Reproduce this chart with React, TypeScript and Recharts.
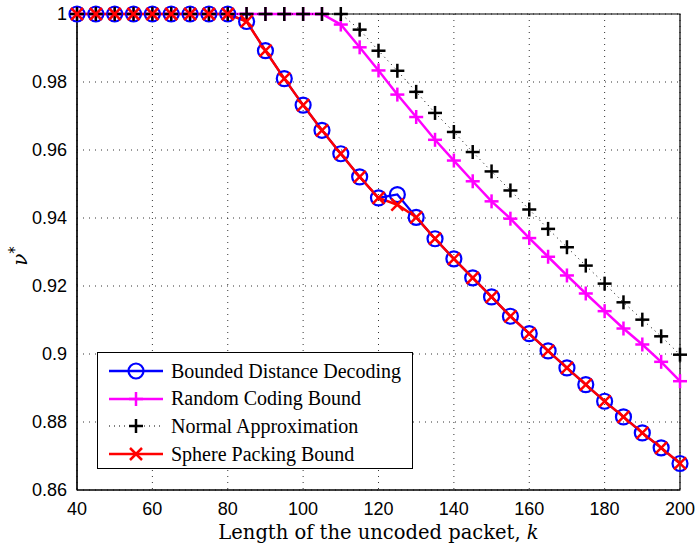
import React from "react";
import {
  LineChart,
  Line,
  XAxis,
  YAxis,
  CartesianGrid,
  ReferenceArea,
} from "recharts";

const kValues = [
  40, 45, 50, 55, 60, 65, 70, 75, 80, 85, 90, 95, 100, 105, 110, 115, 120,
  125, 130, 135, 140, 145, 150, 155, 160, 165, 170, 175, 180, 185, 190, 195, 200,
];

const boundedDistance = [
  1, 1, 1, 1, 1, 1, 1, 1, 1, 0.9978, 0.9892, 0.981, 0.9732, 0.9658, 0.9589,
  0.9521, 0.9459, 0.9469, 0.9402, 0.9339, 0.928, 0.9224, 0.9168, 0.9111, 0.906,
  0.9009, 0.8959, 0.891, 0.8861, 0.8815, 0.8768, 0.8724, 0.8678,
];

const randomCoding = [
  1, 1, 1, 1, 1, 1, 1, 1, 1, 1, 1, 1, 1, 1, 0.9969, 0.9902, 0.9834, 0.9763,
  0.9697, 0.963, 0.9569, 0.9508, 0.9449, 0.9398, 0.9341, 0.9286, 0.9231,
  0.9178, 0.9126, 0.9075, 0.9028, 0.8977, 0.892,
];

const normalApprox = [
  1, 1, 1, 1, 1, 1, 1, 1, 1, 1, 1, 1, 1, 1, 1, 0.9954, 0.9892, 0.9833, 0.9771,
  0.9709, 0.9653, 0.9594, 0.9537, 0.9481, 0.9425, 0.9368, 0.9314, 0.926,
  0.9207, 0.9152, 0.9101, 0.9052, 0.8998,
];

const spherePacking = [
  1, 1, 1, 1, 1, 1, 1, 1, 1, 0.9978, 0.9892, 0.981, 0.9732, 0.9658, 0.9589,
  0.9521, 0.9459, 0.9439, 0.9402, 0.9339, 0.928, 0.9224, 0.9168, 0.9111, 0.906,
  0.9009, 0.8959, 0.891, 0.8861, 0.8815, 0.8768, 0.8724, 0.8678,
];

const xTicks = [40, 60, 80, 100, 120, 140, 160, 180, 200];
const yTicks = [0.86, 0.88, 0.9, 0.92, 0.94, 0.96, 0.98, 1];

const legendNames = [
  "Bounded Distance Decoding",
  "Random Coding Bound",
  "Normal Approximation",
  "Sphere Packing Bound",
];

const data = kValues.map((k, i) => ({
  k,
  bdd: boundedDistance[i],
  rcb: randomCoding[i],
  na: normalApprox[i],
  spb: spherePacking[i],
}));

const BLUE = "#0000ff";
const MAGENTA = "#ff00ff";
const RED = "#ff0000";
const SERIF = "'DejaVu Serif', serif";

const circleDot = (p: any) => (
  <circle key={`c-${p.index}`} cx={p.cx} cy={p.cy} r={7.5} fill="none" stroke={BLUE} strokeWidth={2.2} />
);

const plusDot = (color: string, s: number, w: number) => (p: any) => (
  <g key={`p-${color}-${p.index}`} stroke={color} strokeWidth={w}>
    <line x1={p.cx - s} y1={p.cy} x2={p.cx + s} y2={p.cy} />
    <line x1={p.cx} y1={p.cy - s} x2={p.cx} y2={p.cy + s} />
  </g>
);

const crossDot = (p: any) => (
  <g key={`x-${p.index}`} stroke={RED} strokeWidth={2.5}>
    <line x1={p.cx - 6} y1={p.cy - 6} x2={p.cx + 6} y2={p.cy + 6} />
    <line x1={p.cx - 6} y1={p.cy + 6} x2={p.cx + 6} y2={p.cy - 6} />
  </g>
);

const XLabel = (props: any) => {
  const vb = props.viewBox || { x: 77, width: 603 };
  return (
    <text x={vb.x + vb.width / 2} y={539} textAnchor="middle" fontFamily={SERIF} fontSize={19.5} fill="#000">
      Length of the uncoded packet, <tspan fontStyle="italic">k</tspan>
    </text>
  );
};

const YLabel = () => (
  <text x={27} y={256} transform="rotate(-90, 27, 256)" textAnchor="middle" fontFamily={SERIF} fontSize={20} fill="#000">
    <tspan fontStyle="italic">ν</tspan>
    <tspan dy={-7} fontSize={15} fontFamily="'DejaVu Sans', sans-serif">*</tspan>
  </text>
);

const LegendBox = () => {
  const rows = [
    { color: BLUE, dash: undefined, width: 2.5, marker: "o" },
    { color: MAGENTA, dash: undefined, width: 2.5, marker: "+" },
    { color: "#000", dash: "1 4", width: 1, marker: "k+" },
    { color: RED, dash: undefined, width: 2.5, marker: "x" },
  ];
  return (
    <div
      style={{
        position: "absolute",
        left: 97,
        top: 352,
        width: 314,
        height: 115,
        border: "1px solid #000",
        background: "#fff",
        fontFamily: "'Liberation Serif', serif",
        fontSize: 20,
      }}
    >
      {rows.map((r, i) => (
        <div
          key={i}
          style={{ position: "absolute", left: 0, top: 4 + i * 27.7, height: 28, display: "flex", alignItems: "center" }}
        >
          <svg width={70} height={28}>
            <line x1={11} y1={14} x2={65} y2={14} stroke={r.color} strokeWidth={r.width} strokeDasharray={r.dash} />
            {r.marker === "o" && <circle cx={38} cy={14} r={7.5} fill="none" stroke={BLUE} strokeWidth={2.2} />}
            {r.marker === "+" && (
              <g stroke={MAGENTA} strokeWidth={2.5}>
                <line x1={31} y1={14} x2={45} y2={14} />
                <line x1={38} y1={7} x2={38} y2={21} />
              </g>
            )}
            {r.marker === "k+" && (
              <g stroke="#000" strokeWidth={2.5}>
                <line x1={31} y1={14} x2={45} y2={14} />
                <line x1={38} y1={7} x2={38} y2={21} />
              </g>
            )}
            {r.marker === "x" && (
              <g stroke={RED} strokeWidth={2.5}>
                <line x1={32} y1={8} x2={44} y2={20} />
                <line x1={32} y1={20} x2={44} y2={8} />
              </g>
            )}
          </svg>
          <span style={{ marginLeft: 3 }}>{legendNames[i]}</span>
        </div>
      ))}
    </div>
  );
};

export default function App() {
  const tickStyle = { fontFamily: "'Liberation Sans', Arial, sans-serif", fontSize: 18, fill: "#000" };
  return (
    <div style={{ position: "absolute", left: 0, top: 0, width: 696, height: 545, background: "#fff" }}>
      <LineChart width={696} height={545} data={data} margin={{ top: 14, right: 16, bottom: 0, left: 0 }}>
        <CartesianGrid stroke="#333" strokeDasharray="1 5" />
        <XAxis
          dataKey="k"
          type="number"
          domain={[40, 200]}
          ticks={xTicks}
          height={55}
          tick={tickStyle}
          tickLine={false}
          axisLine={{ stroke: "#000", strokeWidth: 1.2 }}
          tickMargin={6}
          label={XLabel}
        />
        <YAxis
          type="number"
          domain={[0.86, 1]}
          ticks={yTicks}
          width={77}
          tick={tickStyle}
          tickLine={false}
          axisLine={{ stroke: "#000", strokeWidth: 1.2 }}
          tickMargin={4}
          tickFormatter={(v: number) => String(+v.toFixed(2))}
          label={YLabel}
        />
        <ReferenceArea x1={40} x2={200} y1={0.86} y2={1} fill="none" stroke="#000" strokeWidth={1.2} />
        <Line dataKey="bdd" stroke={BLUE} strokeWidth={2.2} dot={circleDot} isAnimationActive={false} />
        <Line dataKey="rcb" stroke={MAGENTA} strokeWidth={2.5} dot={plusDot(MAGENTA, 7, 2.5)} isAnimationActive={false} />
        <Line
          dataKey="na"
          stroke="#000"
          strokeWidth={1}
          strokeDasharray="1 4"
          dot={plusDot("#000", 7, 2.5)}
          isAnimationActive={false}
        />
        <Line dataKey="spb" stroke={RED} strokeWidth={2.5} dot={crossDot} isAnimationActive={false} />
      </LineChart>
      <LegendBox />
    </div>
  );
}
